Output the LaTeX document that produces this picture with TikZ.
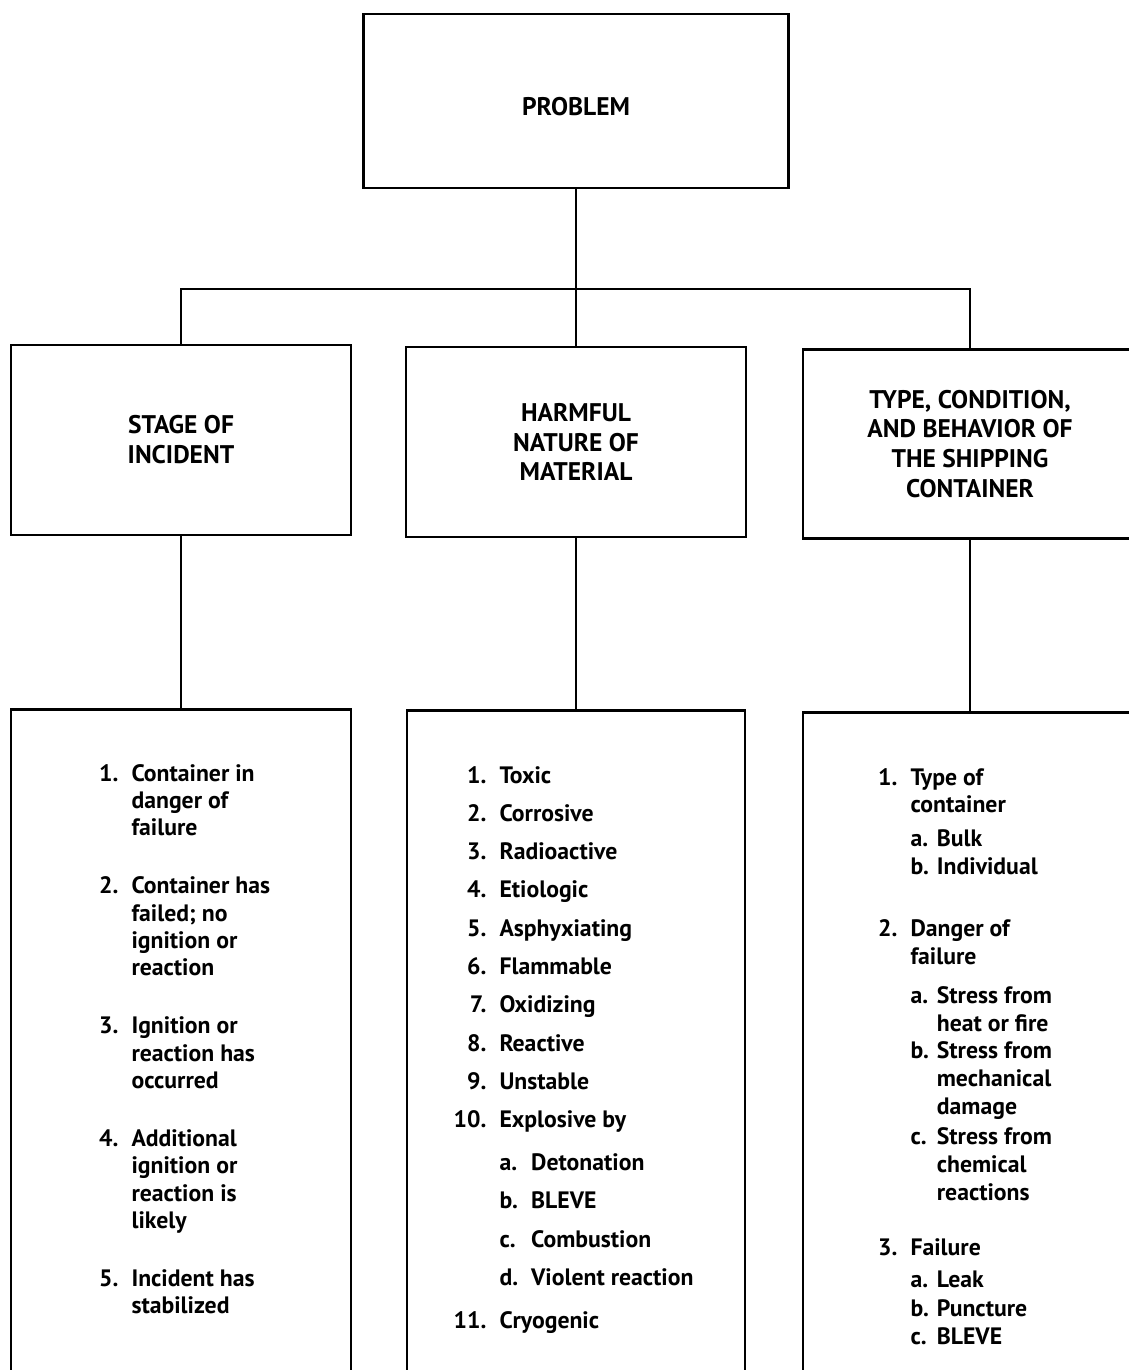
\documentclass[tikz,border=0pt]{standalone}
\usepackage{fontspec}
\setmainfont{PT Sans}

\newcommand{\px}{0.2mm}
\newlength{\numw}\setlength{\numw}{24pt}
\newlength{\letw}\setlength{\letw}{18pt}
\newcommand{\numitem}[2]{\makebox[\numw][r]{#1\hspace{7.5pt}}#2}
\newcommand{\goon}[1]{\hspace*{\numw}#1}
\newcommand{\letitem}[2]{\hspace*{\numw}\makebox[\letw][l]{#1}#2}
\newcommand{\letgoon}[1]{\hspace*{\numw}\hspace*{\letw}#1}

\tikzset{
  box/.style={draw, line width=1.5pt, inner sep=0pt, align=center,
    font=\fontsize{14.5}{17}\selectfont\bfseries},
  wire/.style={line width=1.5pt},
  itemtext/.style={inner sep=0pt, anchor=base west,
    font=\fontsize{13.5}{15.6}\selectfont\bfseries},
}

\begin{document}
\begin{tikzpicture}[x=0.2mm,y=-0.2mm]
\useasboundingbox (0,0) rectangle (1129,1370);
\clip (0,0) rectangle (1129,1370);

% top
\node[box, minimum width=425*\px, minimum height=174*\px, text height=17pt, text depth=0pt] (problem) at (576,101) {PROBLEM};

% headings
\node[box, minimum width=340*\px, minimum height=190*\px] (stage) at (181,440) {STAGE OF\\INCIDENT};
\node[box, minimum width=340*\px, minimum height=190*\px] (harmful) at (576,442) {HARMFUL\\NATURE OF\\MATERIAL};
\node[box, minimum width=334*\px, minimum height=189*\px] (type) at (970,444) {TYPE, CONDITION,\\AND BEHAVIOR OF\\THE SHIPPING\\CONTAINER};

% lists (run off the page)
\node[box, anchor=north, minimum width=340*\px, minimum height=720*\px] (stagelist) at (181,708) {};
\node[box, anchor=north, minimum width=338*\px, minimum height=720*\px] (harmfullist) at (576,709) {};
\node[box, anchor=north, minimum width=334*\px, minimum height=720*\px] (typelist) at (970,711) {};

\coordinate (bus) at (576,289);
\draw[wire] (problem.south) -- (harmful.north);
\draw[wire] (stage.north) |- (bus) -| (type.north);
\draw[wire] (stage.south) -- (stagelist.north);
\draw[wire] (harmful.south) -- (harmfullist.north);
\draw[wire] (type.south) -- (typelist.north);

\node[itemtext] (stageitems) at (89,781) {\begin{tabular}[t]{@{}l@{}}
\numitem{1.}{Container in}\\
\goon{danger of}\\
\goon{failure}\\[17.3pt]
\numitem{2.}{Container has}\\
\goon{failed; no}\\
\goon{ignition or}\\
\goon{reaction}\\[17.3pt]
\numitem{3.}{Ignition or}\\
\goon{reaction has}\\
\goon{occurred}\\[17.3pt]
\numitem{4.}{Additional}\\
\goon{ignition or}\\
\goon{reaction is}\\
\goon{likely}\\[17.3pt]
\numitem{5.}{Incident has}\\
\goon{stabilized}
\end{tabular}};

\node[itemtext, font=\fontsize{13.5}{21.8}\selectfont\bfseries] (harmfulitems) at (457,783) {\begin{tabular}[t]{@{}l@{}}
\numitem{1.}{Toxic}\\
\numitem{2.}{Corrosive}\\
\numitem{3.}{Radioactive}\\
\numitem{4.}{Etiologic}\\
\numitem{5.}{Asphyxiating}\\
\numitem{6.}{Flammable}\\
\numitem{7.}{Oxidizing}\\
\numitem{8.}{Reactive}\\
\numitem{9.}{Unstable}\\
\numitem{10.}{Explosive by}\\[2.5pt]
\letitem{a.}{Detonation}\\
\letitem{b.}{BLEVE}\\
\letitem{c.}{Combustion}\\
\letitem{d.}{Violent reaction}\\[2.5pt]
\numitem{11.}{Cryogenic}
\end{tabular}};

\node[itemtext, font=\fontsize{13.5}{15.9}\selectfont\bfseries] (typeitems) at (868,785) {\setlength{\letw}{15pt}\begin{tabular}[t]{@{}l@{}}
\numitem{1.}{Type of}\\
\goon{container}\\[3.4pt]
\letitem{a.}{Bulk}\\
\letitem{b.}{Individual}\\[19.3pt]
\numitem{2.}{Danger of}\\
\goon{failure}\\[6pt]
\letitem{a.}{Stress from}\\
\letgoon{heat or fire}\\
\letitem{b.}{Stress from}\\
\letgoon{mechanical}\\
\letgoon{damage}\\[1pt]
\letitem{c.}{Stress from}\\
\letgoon{chemical}\\
\letgoon{reactions}\\[15.3pt]
\numitem{3.}{Failure}\\[2.3pt]
\letitem{a.}{Leak}\\[1pt]
\letitem{b.}{Puncture}\\
\letitem{c.}{BLEVE}
\end{tabular}};
\end{tikzpicture}
\end{document}
